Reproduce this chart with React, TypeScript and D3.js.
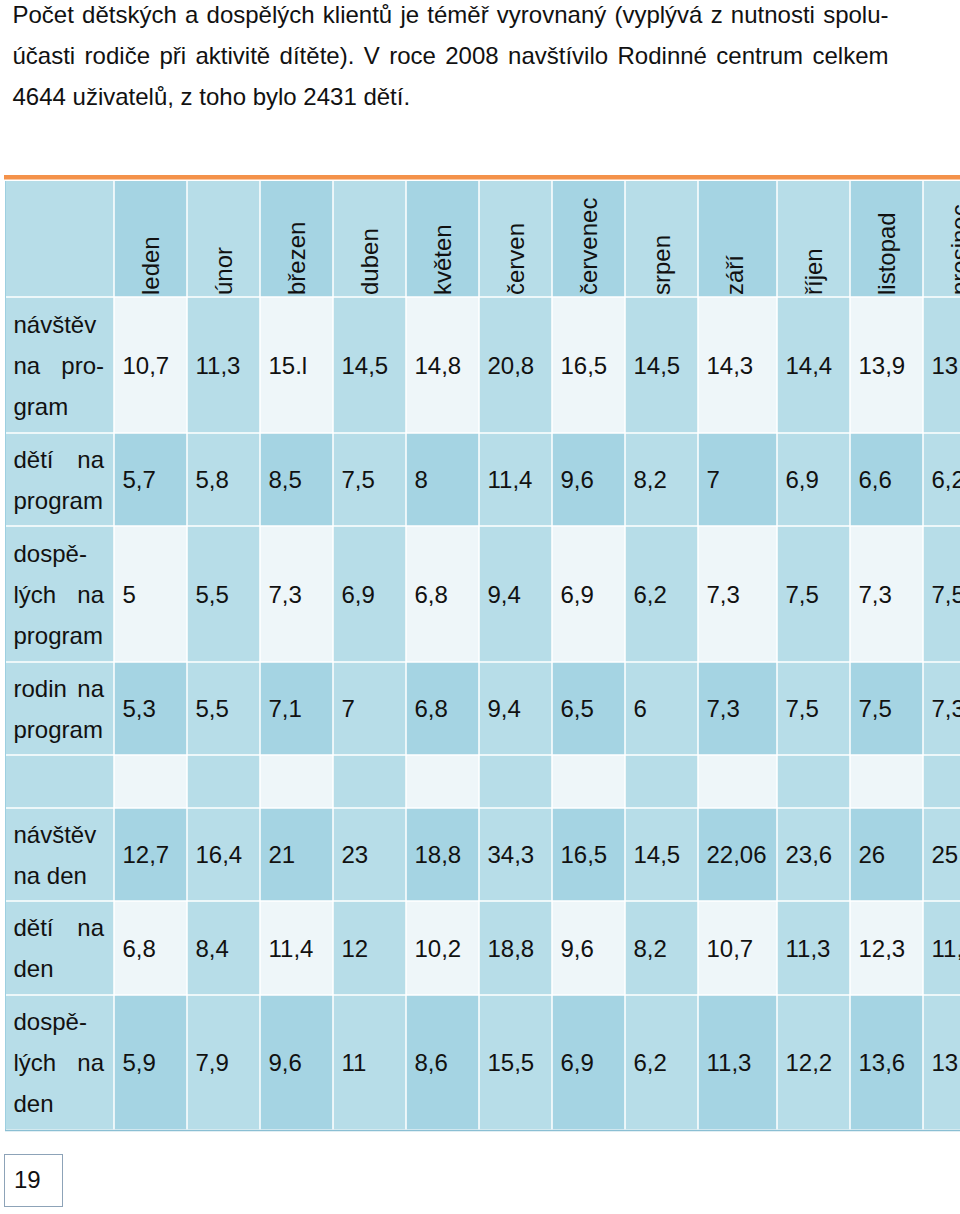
import React, { useEffect, useRef } from "react";
import * as d3 from "d3";

// ---------- data ----------
const titleLines = [
  "Počet dětských a dospělých klientů je téměř vyrovnaný (vyplývá z nutnosti spolu-",
  "účasti rodiče při aktivitě dítěte). V roce 2008 navštívilo Rodinné centrum celkem",
  "4644 uživatelů, z toho bylo 2431 dětí.",
];

const months = [
  "leden", "únor", "březen", "duben", "květen", "červen",
  "červenec", "srpen", "září", "říjen", "listopad", "prosinec",
];

const rowLabels: string[][] = [
  ["návštěv", "na pro-", "gram"],
  ["dětí na", "program"],
  ["dospě-", "lých na", "program"],
  ["rodin na", "program"],
  [""],
  ["návštěv", "na den"],
  ["dětí na", "den"],
  ["dospě-", "lých na", "den"],
];

const navstevProgram = ["10,7", "11,3", "15.l", "14,5", "14,8", "20,8", "16,5", "14,5", "14,3", "14,4", "13,9", "13,7"];
const detiProgram = ["5,7", "5,8", "8,5", "7,5", "8", "11,4", "9,6", "8,2", "7", "6,9", "6,6", "6,2"];
const dospelychProgram = ["5", "5,5", "7,3", "6,9", "6,8", "9,4", "6,9", "6,2", "7,3", "7,5", "7,3", "7,5"];
const rodinProgram = ["5,3", "5,5", "7,1", "7", "6,8", "9,4", "6,5", "6", "7,3", "7,5", "7,5", "7,3"];
const emptyRow = ["", "", "", "", "", "", "", "", "", "", "", ""];
const navstevDen = ["12,7", "16,4", "21", "23", "18,8", "34,3", "16,5", "14,5", "22,06", "23,6", "26", "25,4"];
const detiDen = ["6,8", "8,4", "11,4", "12", "10,2", "18,8", "9,6", "8,2", "10,7", "11,3", "12,3", "11,6"];
const dospelychDen = ["5,9", "7,9", "9,6", "11", "8,6", "15,5", "6,9", "6,2", "11,3", "12,2", "13,6", "13,8"];

const rowValues = [
  navstevProgram, detiProgram, dospelychProgram, rodinProgram,
  emptyRow, navstevDen, detiDen, dospelychDen,
];

const pageNumber = "19";

// ---------- layout ----------
const W = 960;
const H = 1214;
const FONT = "'Liberation Sans', Arial, Helvetica, sans-serif";
const FS = 24;
const LINE = 41;
const tableLeft = 5;
const firstColRight = 114;
const colWidths = [73, 73, 73, 73, 73, 73, 73, 73, 79, 73, 73, 73];
const headerTop = 181;
const headerBottom = 297;
const rowHeights = [136, 93, 136, 93, 53, 93, 94, 135];

const C_LIGHT = "#eef6f9";
const C_MED = "#b7dde8";
const C_DARK = "#a5d4e3";

export default function App() {
  const ref = useRef<SVGSVGElement | null>(null);

  useEffect(() => {
    const svg = d3.select(ref.current);
    svg.selectAll("*").remove();

    const lefts = [firstColRight, ...Array.from(d3.cumsum(colWidths)).map((c) => firstColRight + c)];
    const xLeft = d3.scaleOrdinal<string, number>().domain(months).range(lefts.slice(0, 12));
    const xWidth = d3.scaleOrdinal<string, number>().domain(months).range(colWidths);
    const rowIdx = rowLabels.map((_, i) => String(i));
    const tops = [headerBottom, ...Array.from(d3.cumsum(rowHeights)).map((c) => headerBottom + c)];
    const yTop = d3.scaleOrdinal<string, number>().domain(rowIdx).range(tops.slice(0, rowIdx.length));
    const yH = d3.scaleOrdinal<string, number>().domain(rowIdx).range(rowHeights);
    const tableBottom = tops[tops.length - 1];

    const measure = (s: string) => {
      const t = svg.append("text").attr("font-family", FONT).attr("font-size", FS).text(s);
      const w = (t.node() as SVGTextElement).getComputedTextLength();
      t.remove();
      return w;
    };

    const justify = (
      g: d3.Selection<any, any, any, any>,
      line: string,
      x0: number,
      x1: number,
      y: number,
      last: boolean
    ) => {
      const words = line.split(" ").filter((w) => w.length);
      if (last || words.length < 2) {
        g.append("text").attr("x", x0).attr("y", y).text(line);
        return;
      }
      const widths = words.map(measure);
      const gap = (x1 - x0 - d3.sum(widths)) / (words.length - 1);
      let x = x0;
      words.forEach((w, i) => {
        g.append("text").attr("x", x).attr("y", y).text(w);
        x += widths[i] + gap;
      });
    };

    // title
    const tg = svg.append("g").attr("font-family", FONT).attr("font-size", FS).attr("fill", "#111");
    titleLines.forEach((l, i) => justify(tg, l, 12.5, 888.5, 22.5 + i * LINE, i === titleLines.length - 1));

    // header cells
    const cells = svg.append("g");
    cells.append("rect")
      .attr("x", tableLeft + 0.75).attr("y", headerTop)
      .attr("width", firstColRight - tableLeft - 1.5).attr("height", headerBottom - headerTop - 0.75)
      .attr("fill", C_MED);
    cells.selectAll("rect.h").data(months).join("rect")
      .attr("class", "h")
      .attr("x", (m) => xLeft(m) + 0.75).attr("y", headerTop)
      .attr("width", (m) => xWidth(m) - 1.5).attr("height", headerBottom - headerTop - 0.75)
      .attr("fill", (_, i) => (i % 2 === 0 ? C_DARK : C_MED));

    // body cells
    rowIdx.forEach((r, ri) => {
      const top = yTop(r);
      const h = yH(r);
      cells.append("rect")
        .attr("x", tableLeft + 0.75).attr("y", top + 0.75)
        .attr("width", firstColRight - tableLeft - 1.5).attr("height", h - 1.5)
        .attr("fill", C_MED);
      cells.selectAll(`rect.r${ri}`).data(months).join("rect")
        .attr("class", `r${ri}`)
        .attr("x", (m) => xLeft(m) + 0.75).attr("y", top + 0.75)
        .attr("width", (m) => xWidth(m) - 1.5).attr("height", h - 1.5)
        .attr("fill", (_, ci) => (ci % 2 === 1 ? C_MED : ri % 2 === 0 ? C_LIGHT : C_DARK));
    });

    // borders
    svg.append("rect").attr("x", tableLeft - 1).attr("y", 175).attr("width", W).attr("height", 4.5).attr("fill", "#f4924a");
    svg.append("line").attr("x1", tableLeft + 0.5).attr("x2", tableLeft + 0.5)
      .attr("y1", headerTop).attr("y2", tableBottom).attr("stroke", "#9dcfe0").attr("stroke-width", 1);
    svg.append("line").attr("x1", tableLeft).attr("x2", W)
      .attr("y1", tableBottom + 0.5).attr("y2", tableBottom + 0.5).attr("stroke", "#8bbfd3").attr("stroke-width", 1.5);

    // header text
    const ht = svg.append("g").attr("font-family", FONT).attr("font-size", FS).attr("fill", "#111");
    ht.selectAll("text").data(months).join("text")
      .attr("transform", (m) => `translate(${xLeft(m) + 45},295) rotate(-90)`)
      .text((m) => m);

    // row labels & values
    const bt = svg.append("g").attr("font-family", FONT).attr("font-size", FS).attr("fill", "#111");
    rowIdx.forEach((r, ri) => {
      const center = yTop(r) + yH(r) / 2;
      const lines = rowLabels[ri];
      lines.forEach((l, li) => {
        const y = center + 8.5 + (li - (lines.length - 1) / 2) * LINE;
        justify(bt, l, tableLeft + 8.5, 104, y, li === lines.length - 1);
      });
      rowValues[ri].forEach((v, ci) => {
        if (!v) return;
        bt.append("text").attr("x", xLeft(months[ci]) + 8.5).attr("y", center + 8.5).text(v);
      });
    });

    // page number box
    svg.append("rect").attr("x", 4.5).attr("y", 1154.5).attr("width", 58).attr("height", 52)
      .attr("fill", "#fff").attr("stroke", "#8da3b8").attr("stroke-width", 1);
    svg.append("text").attr("x", 14).attr("y", 1188).attr("font-family", FONT).attr("font-size", FS)
      .attr("fill", "#111").text(pageNumber);
  }, []);

  return (
    <svg
      ref={ref}
      width={W}
      height={H}
      style={{ position: "absolute", left: 0, top: 0, background: "#fff", display: "block" }}
    />
  );
}
